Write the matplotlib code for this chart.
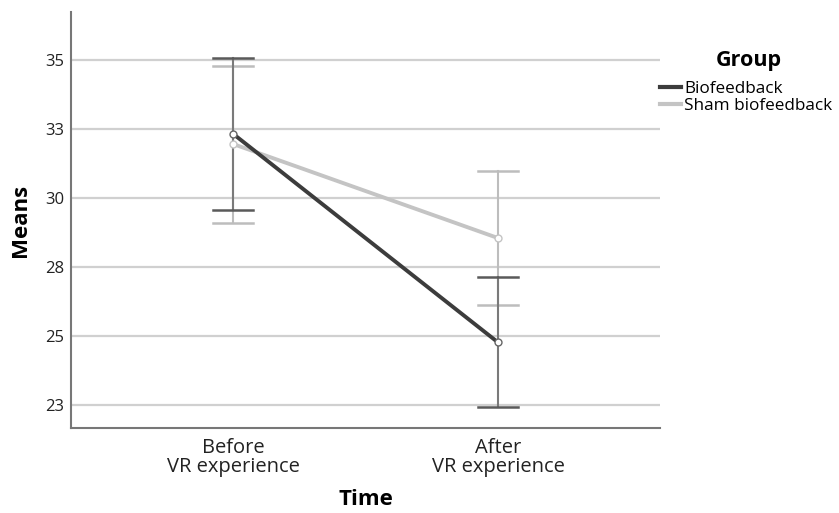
import matplotlib
matplotlib.use("Agg")
import matplotlib.pyplot as plt
from matplotlib.lines import Line2D

# Data: group means with error bar limits at each time point
time_labels = ["Before\nVR experience", "After\nVR experience"]
groups = ["Biofeedback", "Sham biofeedback"]
bio_mean = [32.33, 24.77]
bio_lower = [29.57, 22.42]
bio_upper = [35.08, 27.13]
sham_mean = [31.96, 28.55]
sham_lower = [29.11, 26.11]
sham_upper = [34.79, 30.98]
y_ticks = [22.5, 25, 27.5, 30, 32.5, 35]
y_tick_labels = ["23", "25", "28", "30", "33", "35"]

plt.rcParams['font.family'] = ['Open Sans', 'DejaVu Sans']

fig = plt.figure(figsize=(8.39, 5.13), dpi=100)
ax = fig.add_axes([0.0846, 0.1657, 0.7021, 0.8109])

x = list(range(len(time_labels)))

bio_line = "#3c3c3c"
bio_err = "#7a7a7a"
sham_line = "#c4c4c4"
sham_err = "#bdbdbd"

for xi, lo, hi in zip(x, sham_lower, sham_upper):
    ax.plot([xi, xi], [lo, hi], color=sham_err, lw=1.5, zorder=2)
    for v in (lo, hi):
        ax.plot([xi - 0.075, xi + 0.075], [v, v], color=sham_err, lw=1.8, zorder=2)
for xi, lo, hi in zip(x, bio_lower, bio_upper):
    ax.plot([xi, xi], [lo, hi], color=bio_err, lw=1.5, zorder=3)
    for v in (lo, hi):
        ax.plot([xi - 0.075, xi + 0.075], [v, v], color="#5a5a5a", lw=1.8, zorder=3)

ax.plot(x, sham_mean, color=sham_line, lw=2.8, marker="o", ms=5,
        mfc="white", mec=sham_line, mew=1.0, zorder=4)
ax.plot(x, bio_mean, color=bio_line, lw=2.8, marker="o", ms=5,
        mfc="white", mec="#666666", mew=1.0, zorder=5)

ax.set_xlim(-0.611, 1.611)
ax.set_ylim(21.67, 36.74)
ax.set_yticks(y_ticks)
ax.set_yticklabels(y_tick_labels)
ax.set_xticks(x)
ax.set_xticklabels(time_labels, fontsize=14.5, color="#222222", linespacing=0.95)
ax.tick_params(axis="y", length=0, pad=5, labelsize=12, labelcolor="#222222")
ax.tick_params(axis="x", length=0, pad=7)
ax.yaxis.grid(True, color="#d0d0d0", lw=1.6, zorder=0)
ax.set_axisbelow(True)

for side in ("top", "right"):
    ax.spines[side].set_visible(False)
for side in ("left", "bottom"):
    ax.spines[side].set_color("#777777")
    ax.spines[side].set_linewidth(1.5)

ax.set_ylabel("Means", fontsize=16, fontweight="bold", labelpad=10)
ax.set_xlabel("Time", fontsize=16, fontweight="bold", labelpad=9)

handles = [Line2D([0], [0], color=bio_line, lw=3),
           Line2D([0], [0], color=sham_line, lw=3)]
fig.text(0.892, 0.883, "Group", fontsize=15.5, fontweight="bold", ha="center", va="center")
fig.legend(handles, groups, loc="upper left", bbox_to_anchor=(0.787, 0.842),
           frameon=False, fontsize=12.3, handlelength=1.2, handletextpad=0.2,
           labelspacing=0.05, borderaxespad=0, borderpad=0)

fig.savefig("out.png", dpi=100)
